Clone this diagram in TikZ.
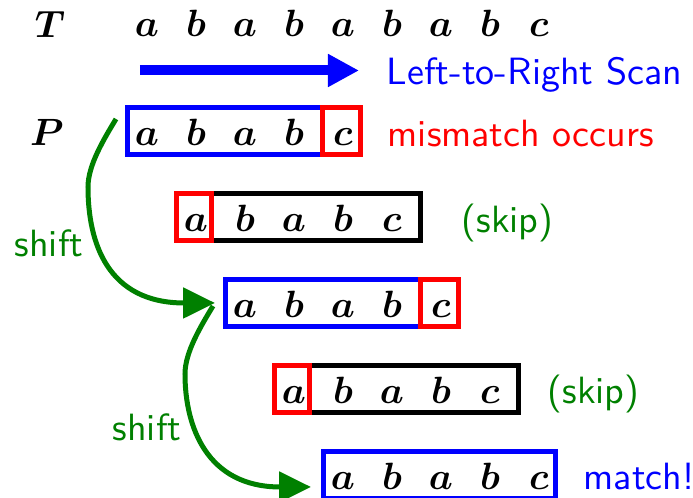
\documentclass[tikz,border=0pt]{standalone}
\usepackage{bm}
\usetikzlibrary{arrows.meta,fit}
\definecolor{sgreen}{rgb}{0,0.5,0}
\begin{document}
\begin{tikzpicture}[x=0.2632pt,y=-0.2632pt,
  sym/.style={inner sep=0pt, anchor=base, font=\fontsize{10}{12}\selectfont},
  lbl/.style={inner sep=0pt, anchor=base west, font=\sffamily\fontsize{10}{12}\selectfont},
  cell/.style={draw, line width=1.316pt, inner sep=0pt, outer sep=0pt},
  bluecell/.style={cell, draw=blue},
  blackcell/.style={cell, draw=black},
  redcell/.style={cell, draw=red},
  garrow/.style={sgreen, line width=1.316pt, -{Triangle[length=8.4pt,width=7.9pt]}}
]
\useasboundingbox (0,0) rectangle (693,498);

% text row
\node[sym] (T) at (50,38) {$\bm{T}$};
\foreach \c [count=\i] in {a,b,a,b,a,b,a,b,c}
  \node[sym] (t\i) at ({98+49*\i},37) {$\bm{\c}$};

% scan direction
\coordinate (a0) at (140,70.5);
\coordinate (a1) at (359,70.5);
\draw[blue, line width=2.63pt, -{Triangle[length=8.16pt,width=8.16pt]}] (a0) -- (a1);
\node[lbl, text=blue] (scan) at (386,85) {Left-to-Right Scan};

% pattern, first alignment: mismatch at c
\node[sym] (P) at (47,146) {$\bm{P}$};
\node[bluecell, fit={(128,107.5) (323,154.5)}] (r1) {};
\node[redcell, fit={(323,107.5) (361,154.5)}] (r1c) {};
\foreach \c [count=\i] in {a,b,a,b,c}
  \node[sym] (ra\i) at ({98+49*\i},145.5) {$\bm{\c}$};
\node[lbl, text=red] (mis) at (387,147) {mismatch occurs};

% second alignment: skipped
\node[blackcell, fit={(212,193.5) (421,240.5)}] (r2) {};
\node[redcell, fit={(177,193.5) (212,240.5)}] (r2a) {};
\foreach \c [count=\i] in {a,b,a,b,c}
  \node[sym] (rb\i) at ({147+49*\i},231.5) {$\bm{\c}$};
\node[lbl, text=sgreen] (skip1) at (461,233) {(skip)};

% third alignment: mismatch at c
\node[bluecell, fit={(226,279.5) (421,326.5)}] (r3) {};
\node[redcell, fit={(421,279.5) (459,326.5)}] (r3c) {};
\foreach \c [count=\i] in {a,b,a,b,c}
  \node[sym] (rc\i) at ({196+49*\i},317.5) {$\bm{\c}$};

% fourth alignment: skipped
\node[blackcell, fit={(310,365.5) (519,412.5)}] (r4) {};
\node[redcell, fit={(275,365.5) (310,412.5)}] (r4a) {};
\foreach \c [count=\i] in {a,b,a,b,c}
  \node[sym] (rd\i) at ({245+49*\i},403.5) {$\bm{\c}$};
\node[lbl, text=sgreen] (skip2) at (547,403.5) {(skip)};

% fifth alignment: match
\node[bluecell, fit={(324,451.5) (556,498.5)}] (r5) {};
\foreach \c [count=\i] in {a,b,a,b,c}
  \node[sym] (re\i) at ({294+49*\i},489.5) {$\bm{\c}$};
\node[lbl, text=blue] (match) at (583,490) {match!};

% shifts
\coordinate (s1) at ([shift={(-12,-12)}]r1.west);
\coordinate (m1) at ([shift={(-40,56)}]r1.west);
\coordinate (e1) at ([shift={(-11,0)}]r3.west);
\coordinate (s2) at ([shift={(-13,3)}]r3.west);
\coordinate (m2) at ([shift={(-41,71)}]r3.west);
\coordinate (e2) at ([shift={(-13,12)}]r5.west);
\draw[garrow] (s1) .. controls +(-12,20) and +(0,-22) .. (m1)
                   .. controls +(0,55) and +(-108,0) .. (e1);
\draw[garrow] (s2) .. controls +(-12,20) and +(0,-22) .. (m2)
                   .. controls +(0,53) and +(-104,0) .. (e2);
\node[lbl, text=sgreen] (sh1) at (14,256.5) {shift};
\node[lbl, text=sgreen] (sh2) at (112,441) {shift};
\end{tikzpicture}
\end{document}
